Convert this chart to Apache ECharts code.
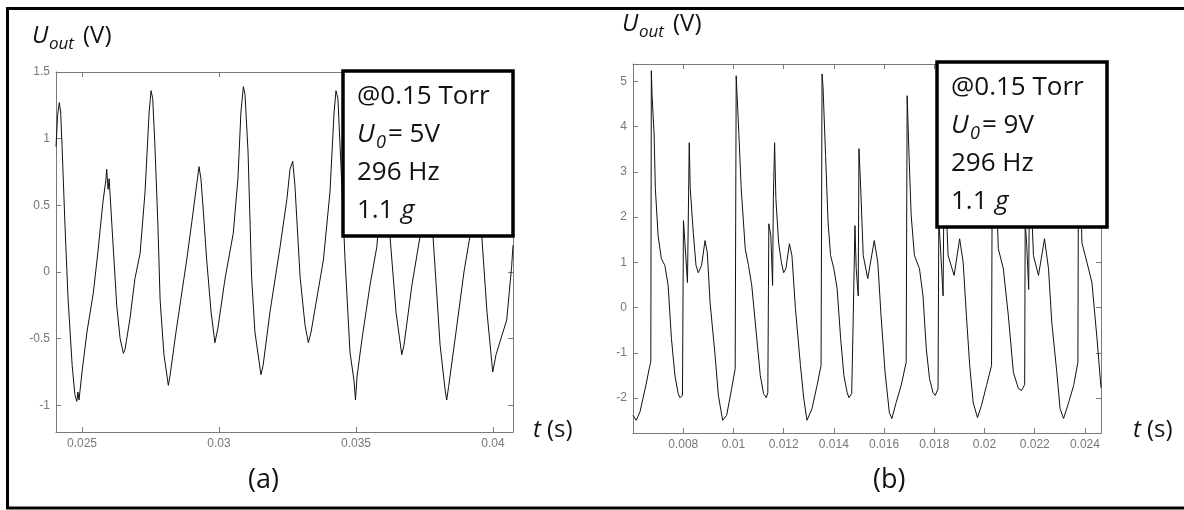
<!DOCTYPE html>
<html><head><meta charset="utf-8">
<script src="https://cdn.jsdelivr.net/npm/echarts@6/dist/echarts.min.js"></script>
<style>html,body{margin:0;padding:0;background:#fff}#c{width:1184px;height:510px}</style>
</head><body><div id="c"></div>
<script>
// ---- Panel (a): time (s) and U_out (V) ----
const tA = [0.02405,0.02411,0.02417,0.02422,0.02427,0.02438,0.02449,0.02464,0.02474,0.02481,0.02485,0.02489,0.02500,0.02518,0.02541,0.02558,0.02576,0.02587,0.02590,0.02595,0.02599,0.02609,0.02627,0.02639,0.02651,0.02657,0.02675,0.02693,0.02712,0.02730,0.02745,0.02752,0.02758,0.02766,0.02777,0.02785,0.02799,0.02815,0.02821,0.02843,0.02861,0.02882,0.02901,0.02920,0.02927,0.02934,0.02943,0.02955,0.02971,0.02985,0.02996,0.03022,0.03052,0.03069,0.03080,0.03089,0.03095,0.03106,0.03119,0.03131,0.03153,0.03161,0.03186,0.03223,0.03248,0.03259,0.03269,0.03277,0.03296,0.03314,0.03326,0.03336,0.03381,0.03405,0.03420,0.03427,0.03434,0.03445,0.03460,0.03478,0.03493,0.03498,0.03504,0.03522,0.03551,0.03576,0.03591,0.03602,0.03613,0.03624,0.03646,0.03667,0.03675,0.03704,0.03734,0.03748,0.03755,0.03766,0.03781,0.03807,0.03825,0.03831,0.03838,0.03865,0.03894,0.03916,0.03938,0.03959,0.03978,0.03999,0.04011,0.04050,0.04068,0.04073];
const vA = [0.94,1.18,1.27,1.20,0.95,0.34,-0.20,-0.70,-0.92,-0.97,-0.90,-0.96,-0.75,-0.45,-0.16,0.15,0.52,0.69,0.77,0.62,0.70,0.35,-0.26,-0.50,-0.61,-0.58,-0.35,-0.05,0.14,0.60,1.20,1.36,1.30,0.95,0.35,-0.21,-0.62,-0.85,-0.78,-0.45,-0.20,0.09,0.38,0.68,0.79,0.70,0.45,0.09,-0.30,-0.53,-0.42,-0.05,0.29,0.70,1.20,1.39,1.33,0.90,-0.04,-0.45,-0.77,-0.70,-0.30,0.19,0.55,0.77,0.83,0.65,-0.04,-0.40,-0.53,-0.45,0.09,0.60,1.20,1.36,1.30,0.80,0.09,-0.60,-0.82,-0.96,-0.78,-0.50,-0.10,0.19,0.55,0.80,0.60,0.27,-0.30,-0.62,-0.55,-0.10,0.27,1.00,1.35,1.00,0.27,-0.55,-0.88,-0.96,-0.86,-0.45,0.00,0.27,0.80,0.27,-0.30,-0.75,-0.62,-0.36,0.04,0.20];

// ---- Panel (b) ----
const tB = [0.00600,0.00613,0.00628,0.00640,0.00652,0.00667,0.00671,0.00673,0.00676,0.00684,0.00689,0.00700,0.00713,0.00727,0.00740,0.00753,0.00767,0.00780,0.00787,0.00797,0.00801,0.00807,0.00817,0.00824,0.00828,0.00840,0.00851,0.00860,0.00873,0.00887,0.00896,0.00907,0.00927,0.00940,0.00957,0.00973,0.00993,0.01007,0.01011,0.01016,0.01022,0.01031,0.01047,0.01060,0.01073,0.01093,0.01107,0.01120,0.01131,0.01137,0.01141,0.01149,0.01156,0.01159,0.01164,0.01169,0.01180,0.01191,0.01200,0.01209,0.01223,0.01233,0.01247,0.01267,0.01280,0.01293,0.01313,0.01333,0.01349,0.01353,0.01357,0.01367,0.01377,0.01387,0.01400,0.01413,0.01427,0.01440,0.01453,0.01460,0.01471,0.01476,0.01484,0.01489,0.01497,0.01500,0.01507,0.01517,0.01535,0.01561,0.01575,0.01588,0.01604,0.01621,0.01631,0.01648,0.01668,0.01688,0.01692,0.01699,0.01708,0.01721,0.01741,0.01755,0.01768,0.01781,0.01795,0.01804,0.01815,0.01818,0.01824,0.01835,0.01840,0.01846,0.01855,0.01879,0.01901,0.01915,0.01928,0.01941,0.01955,0.01972,0.01988,0.02008,0.02028,0.02032,0.02040,0.02055,0.02075,0.02095,0.02115,0.02135,0.02148,0.02160,0.02162,0.02168,0.02176,0.02180,0.02186,0.02195,0.02215,0.02239,0.02255,0.02268,0.02288,0.02301,0.02315,0.02335,0.02355,0.02372,0.02375,0.02380,0.02388,0.02408,0.02428,0.02448,0.02464];
const vB = [-2.38,-2.49,-2.30,-2.00,-1.70,-1.28,-1.20,5.23,4.68,3.84,2.63,1.59,1.08,0.93,0.49,-0.68,-1.50,-1.90,-1.99,-1.94,1.92,1.41,0.55,3.64,2.63,1.66,0.93,0.77,0.93,1.48,1.21,0.11,-1.06,-1.94,-2.49,-2.38,-1.79,-1.35,5.12,5.16,3.80,2.63,1.30,0.93,0.49,-0.68,-1.50,-1.90,-1.99,-1.88,1.85,1.59,0.49,2.41,3.64,2.41,1.43,1.00,0.77,0.86,1.41,1.15,-0.02,-1.28,-2.00,-2.49,-2.23,-1.72,-1.28,5.16,4.86,3.36,1.88,1.15,0.86,0.42,-0.68,-1.50,-1.88,-1.99,-1.90,-0.55,1.81,0.86,0.26,3.51,2.63,1.15,0.64,1.48,1.00,-0.18,-1.43,-2.32,-2.45,-2.10,-1.72,-1.21,4.68,3.42,2.03,1.15,0.86,0.26,-0.90,-1.57,-1.88,-1.94,-1.79,1.90,1.40,0.26,3.60,2.40,1.15,0.71,1.52,1.00,-0.18,-1.28,-2.10,-2.43,-2.16,-1.72,-1.28,5.10,3.80,1.30,0.86,-0.18,-1.43,-1.79,-1.83,-1.70,1.90,1.40,0.40,3.60,2.40,1.15,0.71,1.52,0.86,-0.33,-1.43,-2.23,-2.45,-2.10,-1.72,-1.21,4.80,3.50,1.43,1.00,0.55,-0.68,-1.77];

// ---- tick labels ----
const xTicksA = [0.025, 0.03, 0.035, 0.04];
const yTicksA = [-1, -0.5, 0, 0.5, 1, 1.5];
const xTicksB = [0.008, 0.01, 0.012, 0.014, 0.016, 0.018, 0.02, 0.022, 0.024];
const yTicksB = [-2, -1, 0, 1, 2, 3, 4, 5];

const AX = '#7a7a7a';
const LBL = '#777777';
const FONT = 'Open Sans';

function ax(opts, ticks, gridIndex, position, showLabel) {
  return Object.assign({
    type: 'value', gridIndex, position,
    axisLine: { show: true, onZero: false, lineStyle: { color: AX, width: 1 } },
    axisTick: { show: true, inside: true, length: 5, customValues: ticks, lineStyle: { color: AX, width: 1 } },
    axisLabel: { show: showLabel, customValues: ticks, color: LBL, fontSize: 12, fontFamily: 'Liberation Sans', margin: 6 },
    splitLine: { show: false }
  }, opts);
}

function pair(t, v) { return t.map((x, i) => [x, v[i]]); }

const chart = echarts.init(document.getElementById('c'), null, { renderer: 'canvas' });

function txt(x, y, s, size, italic, extra) {
  return Object.assign({
    type: 'text', x, y, z: 100,
    style: { text: s, fill: '#111', font: (italic ? 'italic ' : '') + size + 'px "' + FONT + '"', textAlign: 'left', textVerticalAlign: 'middle' }
  }, extra || {});
}

function legend(bx, by, v0) {
  const lx = bx + 14, y0 = by + 26, dy = 38;
  return [
    { type: 'rect', z: 90, shape: { x: bx, y: by, width: 170, height: 165 }, style: { fill: '#fff', stroke: '#000', lineWidth: 3.5 } },
    txt(lx, y0, '@0.15 Torr', 26, false),
    txt(lx, y0 + dy, 'U', 26, true),
    txt(lx + 19, y0 + dy + 8, '0', 18, true),
    txt(lx + 31, y0 + dy, '= ' + v0 + 'V', 26, false),
    txt(lx, y0 + 2 * dy, '296 Hz', 26, false),
    txt(lx, y0 + 3 * dy, '1.1', 26, false),
    txt(lx + 44, y0 + 3 * dy, 'g', 26, true)
  ];
}

function ylab(x, y) {
  return [
    txt(x, y, 'U', 24, true),
    txt(x + 17, y + 8, 'out', 17, true),
    txt(x + 51, y, '(V)', 24, false)
  ];
}
function tlab(x, y) {
  return [
    txt(x, y, 't', 24, true),
    txt(x + 14, y, '(s)', 24, false)
  ];
}

const option = {
  animation: false,
  backgroundColor: '#fff',
  grid: [
    { left: 56, top: 72, width: 457, height: 360, containLabel: false, outerBoundsMode: 'none' },
    { left: 633, top: 64, width: 468, height: 369, containLabel: false, outerBoundsMode: 'none' }
  ],
  xAxis: [
    ax({ min: 0.02405, max: 0.04073 }, xTicksA, 0, 'bottom', true),
    ax({ min: 0.02405, max: 0.04073 }, xTicksA, 0, 'top', false),
    ax({ min: 0.006, max: 0.02464 }, xTicksB, 1, 'bottom', true),
    ax({ min: 0.006, max: 0.02464 }, xTicksB, 1, 'top', false)
  ],
  yAxis: [
    ax({ min: -1.2, max: 1.5 }, yTicksA, 0, 'left', true),
    ax({ min: -1.2, max: 1.5 }, yTicksA, 0, 'right', false),
    ax({ min: -2.77, max: 5.38 }, yTicksB, 1, 'left', true),
    ax({ min: -2.77, max: 5.38 }, yTicksB, 1, 'right', false)
  ],
  series: [
    { type: 'line', xAxisIndex: 0, yAxisIndex: 0, data: pair(tA, vA), showSymbol: false, lineStyle: { color: '#111', width: 1 } },
    { type: 'line', xAxisIndex: 2, yAxisIndex: 2, data: pair(tB, vB), showSymbol: false, lineStyle: { color: '#111', width: 1 } }
  ],
  graphic: [
    { type: 'rect', z: 80, shape: { x: 7.5, y: 8.5, width: 1185, height: 499.5 }, style: { fill: 'none', stroke: '#000', lineWidth: 3 } },
    ...ylab(32, 36),
    ...ylab(622, 24),
    ...tlab(533, 430),
    ...tlab(1133, 430),
    txt(248, 480, '(a)', 27, false),
    txt(873, 480, '(b)', 27, false),
    ...legend(343, 71, 5),
    ...legend(937, 62, 9)
  ]
};
chart.setOption(option);
</script>
</body></html>
